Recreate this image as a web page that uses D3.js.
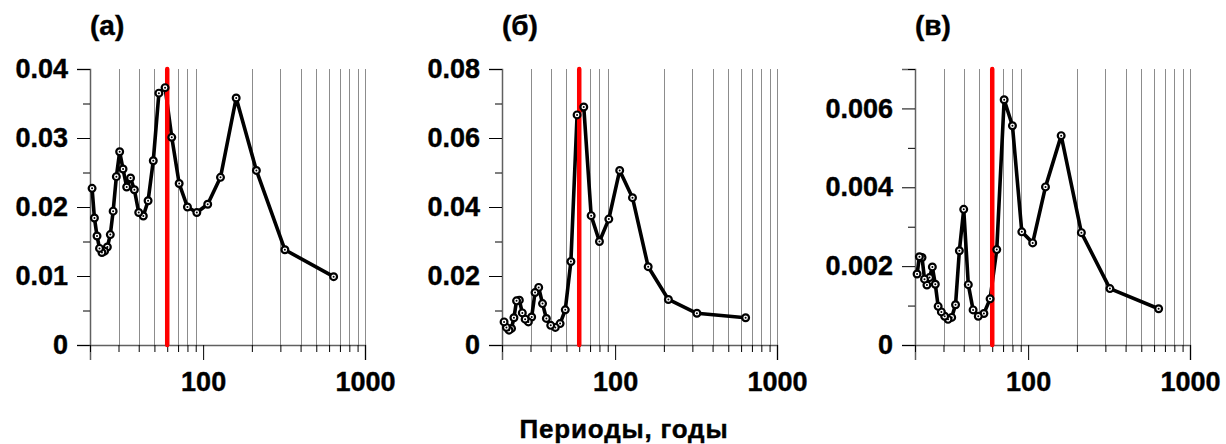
<!DOCTYPE html>
<html>
<head>
<meta charset="utf-8">
<script src="https://cdn.jsdelivr.net/npm/d3@7"></script>
<style>
  html, body { margin: 0; padding: 0; background: #fff; }
  svg { display: block; font-family: "Liberation Sans", Arial, sans-serif; font-weight: bold; }
  svg text { stroke: #000; stroke-width: 0.4px; }
</style>
</head>
<body>
<svg id="chart" width="1226" height="444"></svg>
<script>
'use strict';

// Periods (years), harmonics of the record length
const PERIODS = [640, 320, 213.3, 160, 128, 106.7, 91.4, 80, 71.1, 64, 58.2, 53.3, 49.2, 45.7,
  42.7, 40, 37.6, 35.6, 33.7, 32, 30.5, 29.1, 27.8, 26.7, 25.6, 24.6, 23.7, 22.9, 22.1, 21.3, 20.6];

const VALUES_A = [0.0099, 0.0138, 0.0253, 0.0358, 0.0243, 0.0204, 0.0192, 0.0200, 0.0234, 0.0301,
  0.0373, 0.0365, 0.0267, 0.0209, 0.0187, 0.0192, 0.0225, 0.0242, 0.0229, 0.0255, 0.0280, 0.0244,
  0.0194, 0.0160, 0.0142, 0.0136, 0.0134, 0.0140, 0.0158, 0.0184, 0.0227];

const VALUES_B = [0.0079, 0.0092, 0.0132, 0.0227, 0.0427, 0.0506, 0.0365, 0.0300, 0.0375, 0.0690,
  0.0667, 0.0242, 0.0102, 0.0062, 0.0051, 0.0057, 0.0077, 0.0120, 0.0167, 0.0152, 0.0081, 0.0067,
  0.0075, 0.0093, 0.0130, 0.0128, 0.0079, 0.0048, 0.0043, 0.0051, 0.0067];

const VALUES_C = [0.00092, 0.00143, 0.00285, 0.00531, 0.00401, 0.00259, 0.00287, 0.00556, 0.00622,
  0.00242, 0.00117, 0.00080, 0.00073, 0.00089, 0.00153, 0.00344, 0.00239, 0.00102, 0.00070, 0.00065,
  0.00073, 0.00084, 0.00098, 0.00154, 0.00198, 0.00171, 0.00152, 0.00167, 0.00222, 0.00224, 0.00180];

const X_TICKS = [100, 1000];
const X_MINOR = [20, 30, 40, 50, 60, 70, 80, 90, 200, 300, 400, 500, 600, 700, 800, 900];
const X_GRID  = [30, 40, 50, 60, 70, 80, 90, 200, 300, 400, 500, 600, 700, 800, 900, 1000];
const MARKER_PERIOD = 60;

const Y_TICKS_A = [0, 0.01, 0.02, 0.03, 0.04];
const Y_MINOR_A = [0.005, 0.015, 0.025, 0.035];
const Y_TICKS_B = [0, 0.02, 0.04, 0.06, 0.08];
const Y_MINOR_B = [0.01, 0.03, 0.05, 0.07];
const Y_TICKS_C = [0, 0.002, 0.004, 0.006];
const Y_MINOR_C = [0.001, 0.003, 0.005, 0.007];

const TITLES = ['(а)', '(б)', '(в)'];
const X_LABEL = 'Периоды, годы';

const LAYOUT = {
  top: 69,
  height: 276,
  width: 275,
  lefts: [90, 502, 915],
};

const svg = d3.select('#chart');

const panels = [
  { values: VALUES_A, yMax: 0.04,  ticks: Y_TICKS_A, minor: Y_MINOR_A, fmt: '.2f' },
  { values: VALUES_B, yMax: 0.08,  ticks: Y_TICKS_B, minor: Y_MINOR_B, fmt: '.2f' },
  { values: VALUES_C, yMax: 0.007, ticks: Y_TICKS_C, minor: Y_MINOR_C, fmt: '.3f' },
];

panels.forEach((p, i) => drawPanel(p, i));

function drawPanel(p, i) {
  const left = LAYOUT.lefts[i];
  const g = svg.append('g').attr('transform', `translate(${left},${LAYOUT.top})`);

  const x = d3.scaleLog().domain([20, 1000]).range([0, LAYOUT.width]);
  const y = d3.scaleLinear().domain([0, p.yMax]).range([LAYOUT.height, 0]);

  // vertical grid
  g.append('g').selectAll('line')
    .data(X_GRID)
    .join('line')
      .attr('x1', d => Math.round(x(d)) + 0.5)
      .attr('x2', d => Math.round(x(d)) + 0.5)
      .attr('y1', 0)
      .attr('y2', LAYOUT.height)
      .attr('stroke', '#8c8c8c')
      .attr('stroke-width', 1);

  // axes
  const fmt = d3.format(p.fmt);
  const yAxis = g.append('g')
    .call(d3.axisLeft(y).tickValues(p.ticks).tickSize(13).tickPadding(9)
      .tickFormat(d => d === 0 ? '0' : fmt(d)));
  g.append('g')
    .call(d3.axisLeft(y).tickValues(p.minor).tickSize(7).tickFormat(''))
    .call(a => a.select('.domain').remove());

  const xAxis = g.append('g')
    .attr('transform', `translate(0,${LAYOUT.height})`)
    .call(d3.axisBottom(x).tickValues(X_TICKS).tickSize(15).tickPadding(12)
      .tickFormat(d3.format('d')));
  g.append('g')
    .attr('transform', `translate(0,${LAYOUT.height})`)
    .call(d3.axisBottom(x).tickValues(X_MINOR).tickSize(7).tickFormat(''))
    .call(a => a.select('.domain').remove());

  [yAxis, xAxis].forEach(a => {
    a.select('.domain').attr('stroke', '#606060').attr('stroke-width', 1.5);
    a.selectAll('text')
      .attr('fill', '#000')
      .attr('font-size', 27)
      .attr('font-family', '"Liberation Sans", Arial, sans-serif')
      .attr('font-weight', 'bold');
  });
  g.selectAll('.tick line').attr('stroke', '#000');

  // data line
  const line = d3.line()
    .x(d => x(d[0]))
    .y(d => y(d[1]));
  const pts = PERIODS.map((t, k) => [t, p.values[k]]);

  g.append('path')
    .datum(pts)
    .attr('fill', 'none')
    .attr('stroke', '#000')
    .attr('stroke-width', 3.6)
    .attr('stroke-linejoin', 'round')
    .attr('d', line);

  // 60-year marker
  g.append('line')
    .attr('x1', x(MARKER_PERIOD))
    .attr('x2', x(MARKER_PERIOD))
    .attr('y1', 0)
    .attr('y2', LAYOUT.height)
    .attr('stroke', '#ff0000')
    .attr('stroke-width', 4.5)
    .attr('stroke-linecap', 'round');

  // point markers: black ring, white gap, black centre
  const marks = g.append('g').selectAll('g')
    .data(pts)
    .join('g')
      .attr('transform', d => `translate(${x(d[0])},${y(d[1])})`);
  marks.append('circle')
    .attr('r', 3.4)
    .attr('fill', '#fff')
    .attr('stroke', '#000')
    .attr('stroke-width', 2.2);
  marks.append('circle')
    .attr('r', 1)
    .attr('fill', '#000');

  svg.append('text')
    .attr('x', left)
    .attr('y', 35)
    .attr('font-size', 28)
    .attr('fill', '#000')
    .text(TITLES[i]);
}

svg.append('text')
  .attr('x', 624)
  .attr('y', 438)
  .attr('text-anchor', 'middle')
  .attr('font-size', 26)
  .attr('letter-spacing', 0.8)
  .attr('fill', '#000')
  .text(X_LABEL);
</script>
</body>
</html>
